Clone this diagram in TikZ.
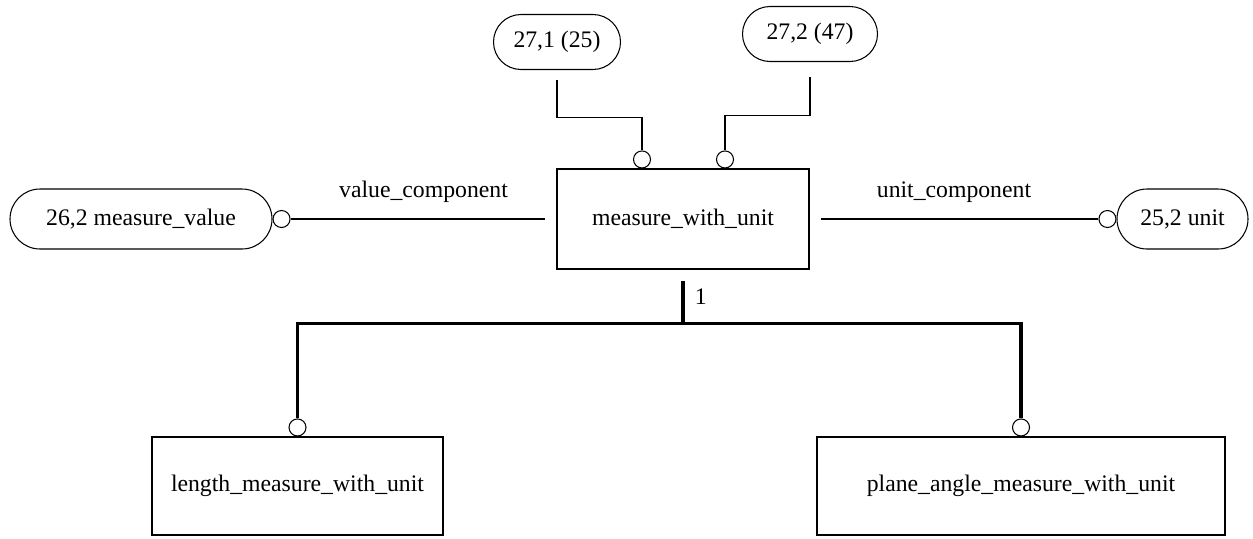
\documentclass[tikz,border=0pt]{standalone}
\usepackage{fontspec}
\setmainfont{Liberation Serif}
\usetikzlibrary{positioning}

\begin{document}
\begin{tikzpicture}[font=\fontsize{13.5}{15}\selectfont, line width=0.6pt,
    entity/.style={draw, rectangle, inner sep=0pt},
    pill/.style={draw, rectangle, rounded corners=0.6cm, minimum height=1.2cm, inner sep=0pt},
    ring/.style={draw, circle, minimum size=0.34cm, inner sep=0pt},
    subtype/.style={line width=2.2pt}]
    \useasboundingbox (0,0) rectangle (25.06,-10.76);
    % entities
    \node[entity, minimum width=5.04cm, minimum height=2cm] (mwu) at (13.66,-4.38) {measure\_with\_unit};
    \node[entity, minimum width=5.82cm, minimum height=1.96cm] (lmwu) at (5.95,-9.72) {length\_measure\_with\_unit};
    \node[entity, minimum width=8.16cm, minimum height=1.96cm] (pamwu) at (20.42,-9.72) {plane\_angle\_measure\_with\_unit};
    % referenced types
    \node[pill, minimum width=5.24cm] (mval) at (2.82,-4.38) {26,2 measure\_value};
    \node[pill, minimum width=2.62cm] (unit) at (23.65,-4.38) {25,2 unit};
    \node[pill, minimum width=2.54cm, minimum height=1.1cm, rounded corners=0.55cm] (ref1) at (11.14,-0.84) {27,1 (25)};
    \node[pill, minimum width=2.7cm, minimum height=1.1cm, rounded corners=0.55cm] (ref2) at (16.2,-0.68) {27,2 (47)};
    % rings
    \node[ring, right=0pt of mval] (cval) {};
    \node[ring, left=0pt of unit] (cunit) {};
    \node[ring, anchor=south] (cin1) at ([xshift=-0.82cm]mwu.north) {};
    \node[ring, anchor=south] (cin2) at ([xshift=0.84cm]mwu.north) {};
    \node[ring, anchor=south] (csub1) at (lmwu.north) {};
    \node[ring, anchor=south] (csub2) at (pamwu.north) {};
    % attributes
    \draw[shorten >=0.22cm] (cval.east) -- node[yshift=0.54cm] {value\_component} (mwu.west);
    \draw[shorten <=0.22cm] (mwu.east) -- node[yshift=0.54cm] {unit\_component} (cunit.west);
    \draw[shorten <=0.2cm] (ref1.south) -- ++(0,-0.95) -| (cin1.north);
    \draw[shorten <=0.3cm] (ref2.south) -- ++(0,-1.07) -| (cin2.north);
    % subtypes
    \draw[subtype, shorten <=0.22cm] (mwu.south) -- node[right, xshift=0.08cm] {1} ++(0,-1.08) coordinate (fork);
    \draw[subtype] (csub1.north) |- (fork) -| (csub2.north);
\end{tikzpicture}
\end{document}
